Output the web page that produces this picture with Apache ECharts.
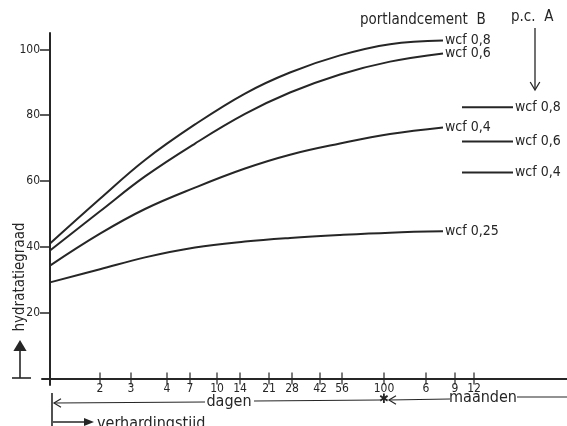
<!DOCTYPE html>
<html>
<head>
<meta charset="utf-8">
<script src="https://cdn.jsdelivr.net/npm/echarts@6/dist/echarts.min.js"></script>
<style>html,body{margin:0;padding:0;background:#fff;}#c{width:567px;height:426px;}</style>
</head>
<body>
<div id="c"></div>
<script>
// ---- data (x = position along the drawn time axis, from the origin) ----
const xTickPos = [0, 50, 81, 117, 140, 167, 190, 219, 242, 270, 292, 334, 376, 405, 424];
const xTickLabels = ['', '2', '3', '4', '7', '10', '14', '21', '28', '42', '56', '100', '6', '9', '12'];
const yTickValues = [20, 40, 60, 80, 100];

const xB = [0, 50, 95, 145, 195, 240, 290, 340, 393];
const wcf08B = [41.0, 54.6, 66.4, 77.2, 86.6, 93.0, 98.2, 101.6, 102.7];
const wcf06B = [38.9, 50.8, 61.4, 71.4, 80.4, 86.9, 92.4, 96.3, 98.8];
const wcf04B = [34.3, 44.0, 51.5, 58.0, 63.8, 68.0, 71.4, 74.3, 76.3];
const wcf025B = [29.2, 33.2, 36.8, 39.8, 41.6, 42.7, 43.6, 44.3, 44.7];

const xA = [412, 463];
const wcf08A = [82.4, 82.4];
const wcf06A = [72.0, 72.0];
const wcf04A = [62.6, 62.6];

const namesB = ['wcf 0,8', 'wcf 0,6', 'wcf 0,4', 'wcf 0,25'];
const namesA = ['wcf 0,8', 'wcf 0,6', 'wcf 0,4'];

// ---- chart ----
const FONT = "'DejaVu Sans Condensed', 'Liberation Sans Narrow', sans-serif";
const INK = '#262626';
const chart = echarts.init(document.getElementById('c'), null, {renderer: 'canvas'});

function zip(xs, ys) { return xs.map((x, i) => [x, ys[i]]); }
function lineSeries(name, xs, ys, smooth) {
  return {
    type: 'line', name: name, data: zip(xs, ys),
    smooth: smooth ? 0.4 : false,
    symbol: 'none', lineStyle: {color: INK, width: 2},
    endLabel: {show: true, formatter: name, distance: 2, color: INK, fontSize: 14, fontFamily: FONT},
    silent: true
  };
}

const series = [
  lineSeries(namesB[0], xB, wcf08B, true),
  lineSeries(namesB[1], xB, wcf06B, true),
  lineSeries(namesB[2], xB, wcf04B, true),
  lineSeries(namesB[3], xB, wcf025B, true),
  lineSeries(namesA[0], xA, wcf08A, false),
  lineSeries(namesA[1], xA, wcf06A, false),
  lineSeries(namesA[2], xA, wcf04A, false),
  {
    // tick marks crossing the time axis
    type: 'scatter', data: xTickPos.map(p => [p, 0]),
    symbol: 'rect', symbolSize: [1.5, 12],
    itemStyle: {color: INK}, silent: true, z: 3
  }
];

function arrowHead(x, y, dir, s) {
  let pts;
  if (dir === 'left') pts = [[x + s, y - s * 0.6], [x, y], [x + s, y + s * 0.6]];
  if (dir === 'right') pts = [[x - s, y - s * 0.6], [x, y], [x - s, y + s * 0.6]];
  if (dir === 'up') pts = [[x - s * 0.6, y + s], [x, y], [x + s * 0.6, y + s]];
  if (dir === 'down') pts = [[x - s * 0.6, y - s], [x, y], [x + s * 0.6, y - s]];
  return pts;
}
function line(x1, y1, x2, y2, w) {
  return {type: 'line', shape: {x1, y1, x2, y2}, style: {stroke: INK, lineWidth: w || 1.3}, silent: true};
}
function text(str, x, y, size, align, opts) {
  return Object.assign({type: 'text', x, y, silent: true,
    style: {text: str, fill: INK, font: size + 'px ' + FONT, textAlign: align || 'left', textVerticalAlign: 'middle'}}, opts || {});
}

const graphic = [
  text('portlandcement  B', 360, 20, 15, 'left'),
  text('p.c.  A', 511, 17, 15, 'left'),
  line(535, 28, 535, 89, 1.3),
  {type: 'polyline', shape: {points: arrowHead(535, 90, 'down', 8)}, style: {stroke: INK, lineWidth: 1.3, fill: null}, silent: true},
  // y axis name
  text('hydratatiegraad', 20, 277, 15, 'center', {rotation: Math.PI / 2}),
  line(20, 378, 20, 350, 1.6),
  {type: 'polygon', shape: {points: arrowHead(20, 340, 'up', 11)}, style: {fill: INK}, silent: true},
  line(12, 378, 31, 378, 1.6),
  // bottom annotation
  line(52, 393, 52, 426, 1.6),
  {type: 'polyline', shape: {points: arrowHead(54, 403, 'left', 7)}, style: {stroke: INK, lineWidth: 1.2, fill: null}, silent: true},
  line(54, 403, 205, 402, 1.1),
  text('dagen', 229, 402, 16, 'center'),
  line(254, 401, 380, 400, 1.1),
  text('✱', 384, 400, 13, 'center'),
  {type: 'polyline', shape: {points: arrowHead(389, 400, 'left', 7)}, style: {stroke: INK, lineWidth: 1.2, fill: null}, silent: true},
  line(389, 400, 450, 399, 1.1),
  text('maanden', 483, 398, 16, 'center'),
  line(517, 397, 567, 397, 1.1),
  line(53, 422, 86, 422, 1.4),
  {type: 'polygon', shape: {points: [[84, 418], [94, 422], [84, 426]]}, style: {fill: INK}, silent: true},
  text('verhardingstijd', 97, 424, 16, 'left')
];

function xLabel(v) {
  const i = xTickPos.indexOf(v);
  return i >= 0 ? xTickLabels[i] : '';
}

const option = {
  animation: false,
  backgroundColor: '#fff',
  grid: {left: 42, right: 0, top: 33, bottom: 41},
  xAxis: {
    type: 'value', min: -8, max: 517,
    axisLine: {onZero: true, lineStyle: {color: INK, width: 2}},
    splitLine: {show: false},
    axisTick: {show: false},
    axisLabel: {customValues: xTickPos, formatter: xLabel, margin: -2, fontSize: 12, color: INK, fontFamily: FONT}
  },
  yAxis: {
    type: 'value', min: -2, max: 105,
    axisLine: {onZero: true, lineStyle: {color: INK, width: 2}},
    splitLine: {show: false},
    axisTick: {customValues: yTickValues, length: 10, lineStyle: {color: INK, width: 1.5}},
    axisLabel: {customValues: yTickValues, margin: 2, fontSize: 12, color: INK, fontFamily: FONT}
  },
  series: series,
  graphic: graphic
};
chart.setOption(option);
</script>
</body>
</html>
